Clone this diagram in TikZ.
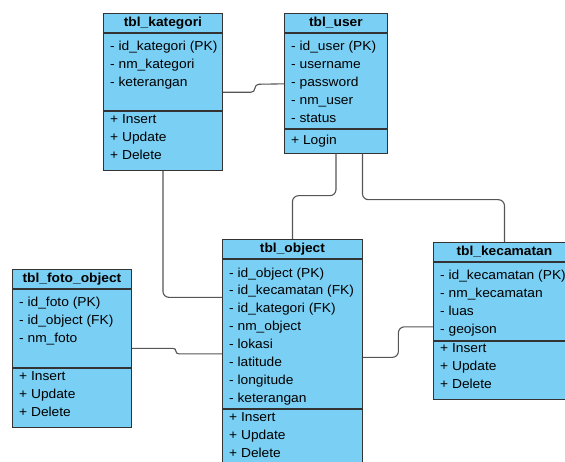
\documentclass[tikz,border=0pt]{standalone}
\usepackage{fontspec}
\newfontfamily\umlfont[FakeStretch=1.06]{Liberation Sans}
\usepackage{xcolor}
\usetikzlibrary{positioning}
\definecolor{classblue}{RGB}{122,207,244}
\definecolor{edgegray}{RGB}{85,85,85}

\begin{document}
\begin{tikzpicture}[
    x=1pt, y=1pt,
    head/.style={rectangle, draw=black!80, line width=0.9pt, fill=classblue, anchor=north west, minimum height=19pt, text height=9.5pt, text depth=2.5pt, font=\umlfont\fontsize{13}{17.9}\selectfont\bfseries},
    part/.style={rectangle, draw=black!80, line width=0.9pt, fill=classblue, inner sep=0pt},
    rows/.style={anchor=north west, inner sep=0pt, align=left, font=\umlfont\fontsize{13}{17.9}\selectfont, execute at begin node=\strut},
    link/.style={draw=edgegray, line width=1.1pt, rounded corners=6pt}
]
    \useasboundingbox (0,0) rectangle (565,-462);

    \node[head, minimum width=119pt] (kat) at (103,-13) {tbl\_kategori};
    \node[part, minimum width=119pt, minimum height=77pt, below=0pt of kat] (katA) {};
    \node[part, minimum width=119pt, minimum height=59.5pt, below=0pt of katA] (katM) {};
    \node[rows] (katAt) at ([shift={(7,-8)}]katA.north west) {- id\_kategori (PK)\\- nm\_kategori\\- keterangan};
    \node[rows] (katMt) at ([shift={(7,-4)}]katM.north west) {+ Insert\\+ Update\\+ Delete};

    \node[head, minimum width=103pt] (user) at (284,-13) {tbl\_user};
    \node[part, minimum width=103pt, minimum height=95pt, below=0pt of user] (userA) {};
    \node[part, minimum width=103pt, minimum height=24pt, below=0pt of userA] (userM) {};
    \node[rows] (userAt) at ([shift={(7,-8)}]userA.north west) {- id\_user (PK)\\- username\\- password\\- nm\_user\\- status};
    \node[rows] (userMt) at ([shift={(7,-3)}]userM.north west) {+ Login};

    \node[head, minimum width=140pt] (obj) at (222,-239) {tbl\_object};
    \node[part, minimum width=140pt, minimum height=149pt, below=0pt of obj] (objA) {};
    \node[part, minimum width=140pt, minimum height=60pt, below=0pt of objA] (objM) {};
    \node[rows] (objAt) at ([shift={(7,-8.5)}]objA.north west) {- id\_object (PK)\\- id\_kecamatan (FK)\\- id\_kategori (FK)\\- nm\_object\\- lokasi\\- latitude\\- longitude\\- keterangan};
    \node[rows] (objMt) at ([shift={(7,-4)}]objM.north west) {+ Insert\\+ Update\\+ Delete};

    \node[head, minimum width=142pt] (kec) at (433,-242) {tbl\_kecamatan};
    \node[part, minimum width=142pt, minimum height=78pt, below=0pt of kec] (kecA) {};
    \node[part, minimum width=142pt, minimum height=58pt, below=0pt of kecA] (kecM) {};
    \node[rows] (kecAt) at ([shift={(7,-8)}]kecA.north west) {- id\_kecamatan (PK)\\- nm\_kecamatan\\- luas\\- geojson};
    \node[rows] (kecMt) at ([shift={(7,-3)}]kecM.north west) {+ Insert\\+ Update\\+ Delete};

    \node[head, minimum width=119pt] (foto) at (12,-269) {tbl\_foto\_object};
    \node[part, minimum width=119pt, minimum height=78pt, below=0pt of foto] (fotoA) {};
    \node[part, minimum width=119pt, minimum height=59pt, below=0pt of fotoA] (fotoM) {};
    \node[rows] (fotoAt) at ([shift={(7,-8)}]fotoA.north west) {- id\_foto (PK)\\- id\_object (FK)\\- nm\_foto};
    \node[rows] (fotoMt) at ([shift={(7,-3.5)}]fotoM.north west) {+ Insert\\+ Update\\+ Delete};

    \draw[link, rounded corners=4pt] ([yshift=18.5pt]katA.south east) -- ++(32,0) -- ++(0,8) -- ([yshift=-3pt]userA.west);
    \draw[link] (katM.south) |- ([yshift=36.5pt]objA.west);
    \draw[link, rounded corners=2.8pt] ([yshift=-20pt]fotoA.east) -- ++(44,0) -- ++(0,-5.5) -- ([yshift=-20pt]objA.west);
    \draw[link] ([yshift=-23.5pt]objA.east) -- ++(35.5,0) |- ([yshift=-25.5pt]kecA.west);
    \draw[link] (userM.south) -- ++(0,-42) -| (obj.north);
    \draw[link] ([xshift=26.5pt]userM.south) -- ++(0,-46) -| (kec.north);
\end{tikzpicture}
\end{document}
